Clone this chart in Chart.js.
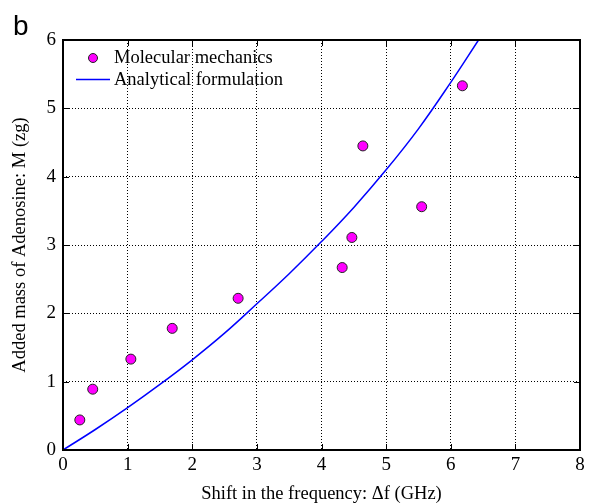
<!DOCTYPE html>
<html>
<head>
<meta charset="utf-8">
<script src="https://cdn.jsdelivr.net/npm/chart.js@4/dist/chart.umd.min.js"></script>
<style>
  html, body { margin: 0; padding: 0; background: #fff; }
  canvas { display: block; }
</style>
</head>
<body>
<canvas id="chart" width="593" height="503"></canvas>
<script>
// molecular mechanics points (shift in GHz, added mass in zg)
var mmShift = [0.26, 0.46, 1.05, 1.69, 2.71, 4.32, 4.47, 4.64, 5.55, 6.18];
var mmMass  = [0.44, 0.89, 1.33, 1.78, 2.22, 2.67, 3.11, 4.45, 3.56, 5.33];

// analytical formulation curve
var afShift = [0, 0.5, 1, 1.5, 2, 2.5, 3, 3.5, 4, 4.5, 5, 5.5, 6, 6.43];
var afMass  = [0, 0.30, 0.62, 0.96, 1.32, 1.71, 2.14, 2.58, 3.05, 3.55, 4.10, 4.70, 5.38, 6.0];

var seriesLabels = ['Molecular mechanics', 'Analytical formulation'];
var xTitle = 'Shift in the frequency: \u0394f (GHz)';
var yTitle = 'Added mass of Adenosine: M (zg)';
var panelLabel = 'b';

var SERIF = "'Liberation Serif', 'Times New Roman', serif";

function pts(xs, ys) {
  return xs.map(function (x, i) { return { x: x, y: ys[i] }; });
}

// frame, inward ticks, legend and panel letter
var framePlugin = {
  id: 'frame',
  afterDraw: function (chart) {
    var ctx = chart.ctx;
    var a = chart.chartArea;
    var sx = chart.scales.x, sy = chart.scales.y;
    ctx.save();
    ctx.strokeStyle = '#000';
    ctx.lineWidth = 1;
    ctx.beginPath();
    sx.ticks.forEach(function (t) {
      var px = Math.round(sx.getPixelForValue(t.value)) + 0.5;
      ctx.moveTo(px, a.bottom); ctx.lineTo(px, a.bottom - 6);
      ctx.moveTo(px, a.top); ctx.lineTo(px, a.top + 6);
    });
    sy.ticks.forEach(function (t) {
      var py = Math.round(sy.getPixelForValue(t.value)) + 0.5;
      ctx.moveTo(a.left, py); ctx.lineTo(a.left + 6, py);
      ctx.moveTo(a.right, py); ctx.lineTo(a.right - 6, py);
    });
    ctx.stroke();
    ctx.lineWidth = 2;
    ctx.strokeRect(a.left, a.top, a.right - a.left, a.bottom - a.top);

    // legend
    var ds = chart.data.datasets;
    ctx.font = '18.5px ' + SERIF;
    ctx.fillStyle = '#000';
    ctx.textBaseline = 'middle';
    ctx.textAlign = 'left';
    ctx.beginPath();
    ctx.arc(a.left + 30, a.top + 18, 4.5, 0, Math.PI * 2);
    ctx.fillStyle = ds[0].backgroundColor;
    ctx.fill();
    ctx.lineWidth = 1;
    ctx.strokeStyle = ds[0].borderColor;
    ctx.stroke();
    ctx.fillStyle = '#000';
    ctx.fillText(ds[0].label, a.left + 51, a.top + 18);
    ctx.beginPath();
    ctx.moveTo(a.left + 13, a.top + 39.5);
    ctx.lineTo(a.left + 47, a.top + 39.5);
    ctx.strokeStyle = ds[1].borderColor;
    ctx.lineWidth = 1.3;
    ctx.stroke();
    ctx.fillText(ds[1].label, a.left + 51, a.top + 40);

    // panel letter
    ctx.font = "28px 'Liberation Sans', Arial, sans-serif";
    ctx.textBaseline = 'alphabetic';
    ctx.fillText(panelLabel, 13, 35);
    ctx.restore();
  }
};

var chart = new Chart(document.getElementById('chart').getContext('2d'), {
  type: 'scatter',
  data: {
    datasets: [{
      label: seriesLabels[0],
      data: pts(mmShift, mmMass),
      showLine: false,
      pointRadius: 5,
      pointBackgroundColor: '#ff00ff',
      backgroundColor: '#ff00ff',
      pointBorderColor: '#222',
      borderColor: '#222',
      pointBorderWidth: 1
    }, {
      label: seriesLabels[1],
      type: 'line',
      data: pts(afShift, afMass),
      borderColor: '#0000ff',
      backgroundColor: '#0000ff',
      borderWidth: 1.5,
      pointRadius: 0,
      tension: 0.4,
      fill: false
    }]
  },
  options: {
    responsive: false,
    animation: false,
    devicePixelRatio: 1,
    layout: { padding: { top: 40, right: 13, left: 0, bottom: 0 } },
    plugins: { legend: { display: false }, tooltip: { enabled: false } },
    scales: {
      x: {
        type: 'linear',
        min: 0, max: 8,
        ticks: { stepSize: 1, color: '#000', padding: 4, maxRotation: 0, font: { family: SERIF, size: 19 } },
        grid: { color: '#000', lineWidth: 1, drawTicks: false },
        border: { display: false, dash: [1, 2] },
        title: {
          display: true, text: xTitle, color: '#000',
          font: { family: SERIF, size: 18.5, lineHeight: 1 },
          padding: { top: 0, bottom: 0 }
        },
        afterFit: function (s) { s.height = 53; }
      },
      y: {
        type: 'linear',
        min: 0, max: 6,
        ticks: { stepSize: 1, color: '#000', padding: 7, font: { family: SERIF, size: 19 } },
        grid: { color: '#000', lineWidth: 1, drawTicks: false },
        border: { display: false, dash: [1, 2] },
        title: {
          display: true, text: yTitle, color: '#000',
          font: { family: SERIF, size: 18.5, lineHeight: 1 },
          padding: { top: 11, bottom: 0 }
        },
        afterFit: function (s) { s.width = 63; }
      }
    }
  },
  plugins: [framePlugin]
});
</script>
</body>
</html>
